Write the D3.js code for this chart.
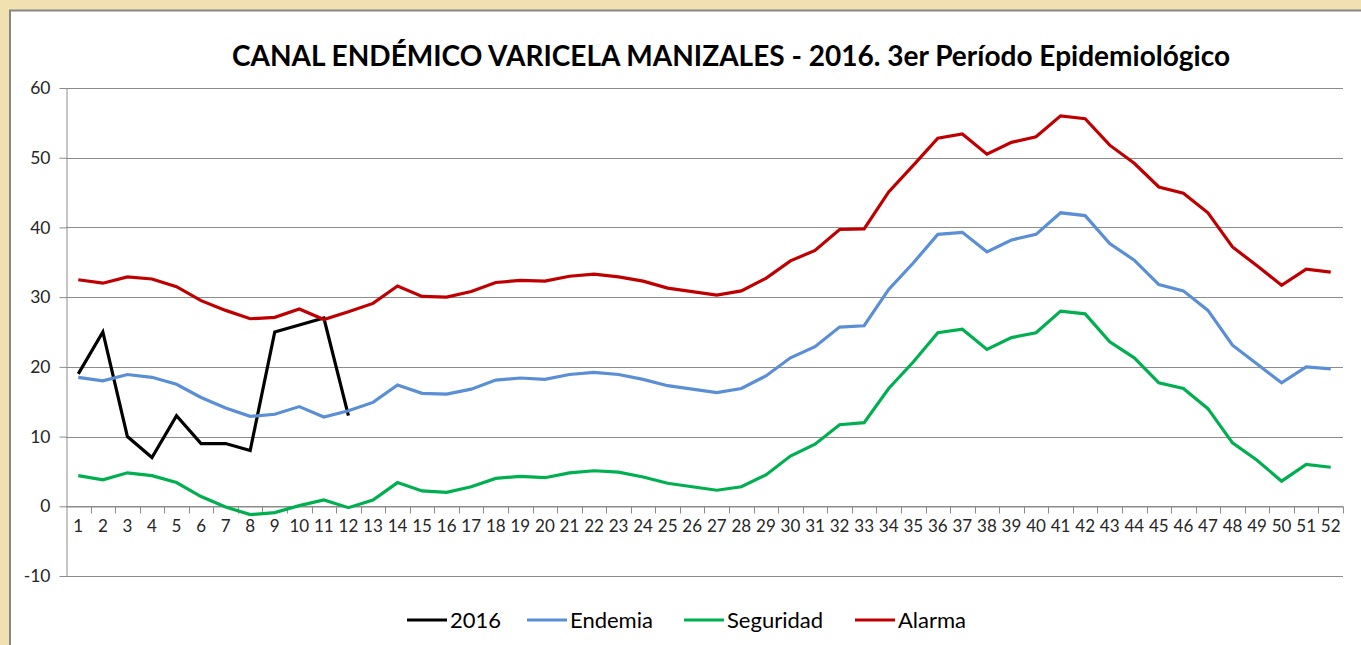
<!DOCTYPE html>
<html>
<head>
<meta charset="utf-8">
<script src="https://cdn.jsdelivr.net/npm/d3@7"></script>
<style>
  body { margin: 0; background: #f2e1b0; overflow: hidden; }
  #chart { position: absolute; left: 0; top: 0; }
</style>
</head>
<body>
<div id="chart"></div>
<script>
// weeks 1..52
const weeks = d3.range(1, 53);
const yTicks = [-10, 0, 10, 20, 30, 40, 50, 60];

// 2016 observed cases (only first 12 weeks)
const cases2016 = [19, 25, 10, 7, 13, 9, 9, 8, 25, 26, 27, 13];

const endemia = [18.5, 18.0, 18.9, 18.5, 17.5, 15.6, 14.1, 12.9, 13.2, 14.3,
  12.8, 13.7, 14.9, 17.4, 16.2, 16.1, 16.8, 18.1, 18.4, 18.2,
  18.9, 19.2, 18.9, 18.2, 17.3, 16.8, 16.3, 16.9, 18.7, 21.3,
  22.9, 25.7, 25.9, 31.1, 34.9, 39.0, 39.3, 36.5, 38.2, 39.0,
  42.1, 41.7, 37.7, 35.3, 31.8, 30.9, 28.1, 23.1, 20.4, 17.7,
  20.0, 19.7];

const seguridad = [4.4, 3.8, 4.8, 4.4, 3.4, 1.4, -0.1, -1.2, -0.9, 0.1,
  0.9, -0.2, 0.9, 3.4, 2.2, 2.0, 2.8, 4.0, 4.3, 4.1,
  4.8, 5.1, 4.9, 4.2, 3.3, 2.8, 2.3, 2.8, 4.5, 7.2,
  8.9, 11.7, 12.0, 16.9, 20.7, 24.9, 25.4, 22.5, 24.2, 24.9,
  28.0, 27.6, 23.6, 21.3, 17.7, 16.9, 14.0, 9.1, 6.6, 3.6,
  6.0, 5.6];

const alarma = [32.5, 32.0, 32.9, 32.6, 31.5, 29.5, 28.1, 26.9, 27.1, 28.3,
  26.8, 27.9, 29.1, 31.6, 30.1, 30.0, 30.8, 32.1, 32.4, 32.3,
  33.0, 33.3, 32.9, 32.3, 31.3, 30.8, 30.3, 30.9, 32.7, 35.2,
  36.7, 39.7, 39.8, 45.1, 48.9, 52.8, 53.4, 50.5, 52.2, 53.0,
  56.0, 55.6, 51.8, 49.2, 45.8, 44.9, 42.1, 37.2, 34.5, 31.7,
  34.0, 33.6];

const seriesNames = ["2016", "Endemia", "Seguridad", "Alarma"];
const seriesColors = ["#000000", "#5a8fd6", "#00b050", "#c00000"];
const seriesData = [cases2016, endemia, seguridad, alarma];

const W = 1361, H = 645;
const margin = {top: 88, right: 18, bottom: 69, left: 66};
const width = W - margin.left - margin.right,
      height = H - margin.top - margin.bottom;

const root = d3.select("#chart").append("svg")
  .attr("width", W)
  .attr("height", H);

// white chart panel with grey frame
root.append("rect")
  .attr("x", 10).attr("y", 10.5)
  .attr("width", W).attr("height", H)
  .attr("fill", "#fff")
  .attr("stroke", "#868686")
  .attr("stroke-width", 2);

root.append("text")
  .attr("x", 731)
  .attr("y", 66)
  .attr("text-anchor", "middle")
  .attr("textLength", 998)
  .attr("lengthAdjust", "spacingAndGlyphs")
  .style("font-family", "Lato, 'Open Sans', sans-serif")
  .style("font-weight", "bold")
  .style("font-size", "28px")
  .style("fill", "#000")
  .text("CANAL ENDÉMICO VARICELA MANIZALES - 2016. 3er Período Epidemiológico");

const svg = root.append("g")
  .attr("transform", `translate(${margin.left},${margin.top})`);

const x = d3.scaleBand()
  .domain(weeks)
  .range([0, width]);

const y = d3.scaleLinear()
  .domain([-10, 60])
  .range([height, 0]);

// horizontal gridlines
svg.append("g")
  .selectAll("line")
  .data(yTicks)
  .join("line")
    .attr("x1", 0).attr("x2", width)
    .attr("y1", d => Math.round(y(d)) + 0.5)
    .attr("y2", d => Math.round(y(d)) + 0.5)
    .attr("stroke", "#8c8c8c")
    .attr("stroke-width", 1);

// y axis
const yAxis = svg.append("g")
  .attr("transform", "translate(0.5,0)")
  .call(d3.axisLeft(y).tickValues(yTicks).tickFormat(d => String(d))
    .tickSize(7).tickPadding(9).tickSizeOuter(0));
yAxis.select(".domain").attr("stroke", "#8c8c8c");
yAxis.selectAll(".tick line").attr("stroke", "#8c8c8c");
yAxis.selectAll(".tick text")
  .style("font-family", "Lato, sans-serif")
  .style("font-size", "17.5px")
  .style("fill", "#262626");

// x axis sits on the zero line
const xAxis = svg.append("g")
  .attr("transform", `translate(0,${Math.round(y(0)) + 0.5})`)
  .call(d3.axisBottom(x).tickSize(0).tickPadding(13).tickSizeOuter(0));
xAxis.select(".domain").attr("stroke", "#8c8c8c");
xAxis.selectAll(".tick text")
  .style("font-family", "Lato, sans-serif")
  .style("font-size", "17px")
  .style("fill", "#262626");

// category separator ticks
xAxis.append("g")
  .selectAll("line")
  .data(weeks.slice(1).concat([53]))
  .join("line")
    .attr("x1", d => Math.round(x(d - 1) + x.bandwidth()) + 0.5)
    .attr("x2", d => Math.round(x(d - 1) + x.bandwidth()) + 0.5)
    .attr("y1", 0).attr("y2", 7)
    .attr("stroke", "#8c8c8c");

// series lines
const line = d3.line()
  .x((d, i) => x(weeks[i]) + x.bandwidth() / 2)
  .y(d => y(d));

svg.append("g")
  .selectAll("path")
  .data(seriesData)
  .join("path")
    .attr("d", d => line(d))
    .attr("fill", "none")
    .attr("stroke", (d, i) => seriesColors[i])
    .attr("stroke-width", 3.2)
    .attr("stroke-linejoin", "miter")
    .attr("stroke-linecap", "butt");

// legend
const legendX = [407, 527, 684, 855];
const legend = root.append("g")
  .attr("transform", "translate(0,620)");

const legendItem = legend.selectAll(".legend-item")
  .data(seriesNames)
  .join("g")
    .attr("class", "legend-item")
    .attr("transform", (d, i) => `translate(${legendX[i]},0)`);

legendItem.append("line")
  .attr("x1", 0).attr("x2", 40)
  .attr("y1", 0).attr("y2", 0)
  .attr("stroke", (d, i) => seriesColors[i])
  .attr("stroke-width", 3.2);

legendItem.append("text")
  .attr("x", 43)
  .attr("y", 8)
  .text(d => d)
  .style("font-family", "Lato, sans-serif")
  .style("font-size", "22px")
  .style("fill", "#000");
</script>
</body>
</html>
